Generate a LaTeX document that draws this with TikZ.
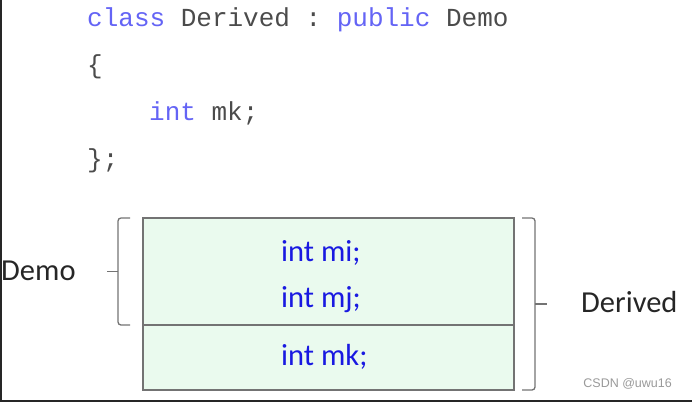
\documentclass[tikz,border=0pt]{standalone}
\usepackage{fontspec}
\usepackage{xcolor}
\setmainfont{Carlito}
\setmonofont{Liberation Mono}
\newfontfamily\wmfont{Liberation Sans}
\usepackage{tikz}
\usetikzlibrary{positioning,calc}

\definecolor{kwblue}{RGB}{100,100,245}
\definecolor{codegray}{RGB}{75,75,75}
\definecolor{fieldblue}{RGB}{25,25,225}
\definecolor{boxfill}{RGB}{234,250,238}
\definecolor{edgegray}{RGB}{115,115,115}

\begin{document}
\begin{tikzpicture}[
    x=1pt, y=-1pt,
    code/.style={anchor=base west, inner sep=0pt, text=codegray, font=\ttfamily\fontsize{26}{26}\selectfont},
    box/.style={draw=edgegray, fill=boxfill, line width=1.3pt, outer sep=0pt, minimum width=371pt},
    field/.style={anchor=base west, inner sep=0pt, text=fieldblue, font=\fontsize{30.5}{36}\selectfont},
    lbl/.style={anchor=base west, inner sep=0pt, text=black!85, font=\fontsize{30.5}{36}\selectfont},
    brace/.style={draw=edgegray, line width=1.3pt, rounded corners=3pt},
    wmark/.style={anchor=base east, inner sep=0pt, text=black!40, font=\wmfont\fontsize{12.5}{14}\selectfont},
    frame/.style={draw=black!85, line width=2.5pt}
]
    \useasboundingbox (0,0) rectangle (692,402);

    \node[code] (head) at (87,26) {{\color{kwblue}class} Derived : {\color{kwblue}public} Demo};
    \node[code] (open) at (87,73) {\{};
    \node[code] (mem) at (149,120) {{\color{kwblue}int} mk;};
    \node[code] (close) at (87,167) {\};};

    \node[box, minimum height=107pt] (base) at (328.5,271.5) {};
    \node[box, minimum height=65pt, below=0pt of base] (ext) {};

    \node[field] (mi) at (281,261) {int mi;};
    \node[field] (mj) at (281,307) {int mj;};
    \node[field] (mk) at (281,365) {int mk;};

    \node[lbl] (demo) at (1,280) {Demo};
    \node[lbl] (derived) at (581,312) {Derived};

    \draw[brace] ([xshift=-13pt]base.north west) -| ([xshift=-25pt]base.south west) -- ([xshift=-13pt]base.south west);
    \draw[brace] ([xshift=-25pt]base.west) -- ++(-11,0);
    \draw[brace] ([xshift=8pt]base.north east) -| ([xshift=21pt]ext.south east) -- ([xshift=8pt]ext.south east);
    \draw[brace] ($(base.north east)!0.5!(ext.south east)+(21,0)$) -- ++(12,0);

    \node[wmark] (wm) at (672,387) {CSDN @uwu16};

    \draw[frame] (1,0) -- (1,400.75) -- (692,400.75);
\end{tikzpicture}
\end{document}
